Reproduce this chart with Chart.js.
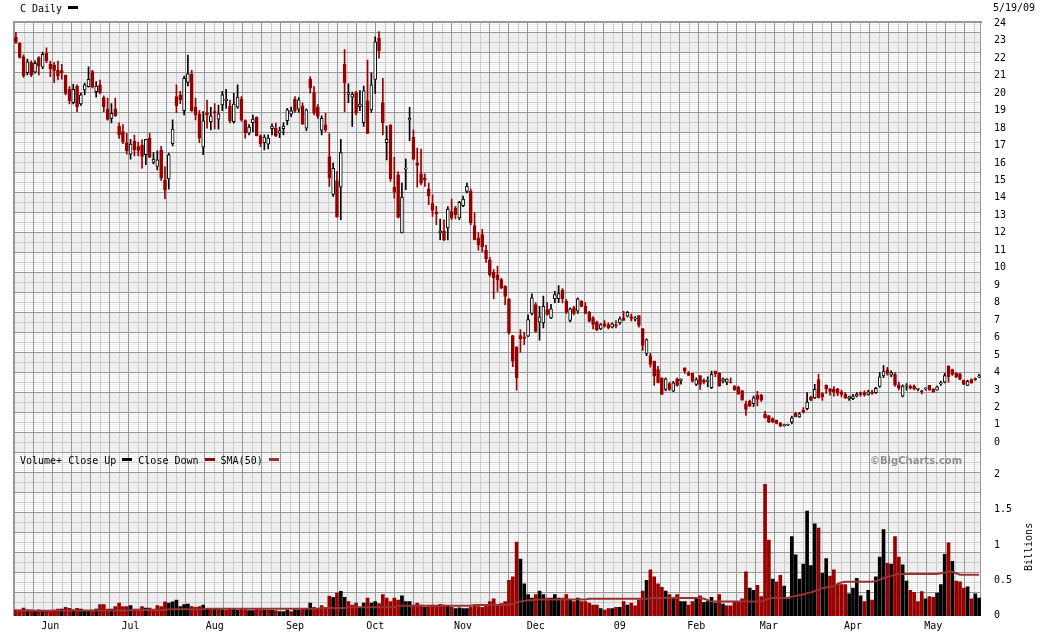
<!DOCTYPE html>
<html>
<head>
<meta charset="utf-8">
<title>C Daily</title>
<script src="https://cdn.jsdelivr.net/npm/chart.js@4.4.0/dist/chart.umd.min.js"></script>
<style>
  body { margin: 0; background: #fff; }
  #wrap { position: relative; width: 1045px; height: 635px; overflow: hidden; }
  #c { position: absolute; left: 0; top: 0; }
  .t { position: absolute; font: 10px "DejaVu Sans Mono", monospace; color: #000; white-space: pre; line-height: 12px; }
  .sw { display: inline-block; width: 10px; height: 3px; vertical-align: 3px; margin: 0 6px; }
</style>
</head>
<body>
<div id="wrap">
  <canvas id="c" width="1045" height="635"></canvas>
  <div class="t" style="left:20px;top:3px">C Daily<span class="sw" style="background:#000"></span></div>
  <div class="t" style="left:993px;top:2px">5/19/09</div>
  <div class="t" style="left:20px;top:455px">Volume+ Close Up<span class="sw" style="background:#000"></span>Close Down<span class="sw" style="background:#990000"></span>SMA(50)<span class="sw" style="background:#993333"></span></div>
  <div class="t" style="left:870px;top:455px;font:bold 10px 'DejaVu Sans';color:#8f8f8f">©BigCharts.com</div>
  <div class="t" style="left:1005px;top:541px;transform:rotate(-90deg);transform-origin:24px 6px">Billions</div>
</div>
<script>
// trading days shown, 5/19/08 .. 5/19/09
const dates = [
  '5/19/08','5/20/08','5/21/08','5/22/08','5/23/08','5/27/08','5/28/08','5/29/08','5/30/08',
  '6/2/08','6/3/08','6/4/08','6/5/08','6/6/08','6/9/08','6/10/08','6/11/08','6/12/08','6/13/08','6/16/08','6/17/08','6/18/08','6/19/08','6/20/08','6/23/08','6/24/08','6/25/08','6/26/08','6/27/08','6/30/08',
  '7/1/08','7/2/08','7/3/08','7/7/08','7/8/08','7/9/08','7/10/08','7/11/08','7/14/08','7/15/08','7/16/08','7/17/08','7/18/08','7/21/08','7/22/08','7/23/08','7/24/08','7/25/08','7/28/08','7/29/08','7/30/08','7/31/08',
  '8/1/08','8/4/08','8/5/08','8/6/08','8/7/08','8/8/08','8/11/08','8/12/08','8/13/08','8/14/08','8/15/08','8/18/08','8/19/08','8/20/08','8/21/08','8/22/08','8/25/08','8/26/08','8/27/08','8/28/08','8/29/08',
  '9/2/08','9/3/08','9/4/08','9/5/08','9/8/08','9/9/08','9/10/08','9/11/08','9/12/08','9/15/08','9/16/08','9/17/08','9/18/08','9/19/08','9/22/08','9/23/08','9/24/08','9/25/08','9/26/08','9/29/08','9/30/08',
  '10/1/08','10/2/08','10/3/08','10/6/08','10/7/08','10/8/08','10/9/08','10/10/08','10/13/08','10/14/08','10/15/08','10/16/08','10/17/08','10/20/08','10/21/08','10/22/08','10/23/08','10/24/08','10/27/08','10/28/08','10/29/08','10/30/08','10/31/08',
  '11/3/08','11/4/08','11/5/08','11/6/08','11/7/08','11/10/08','11/11/08','11/12/08','11/13/08','11/14/08','11/17/08','11/18/08','11/19/08','11/20/08','11/21/08','11/24/08','11/25/08','11/26/08','11/28/08',
  '12/1/08','12/2/08','12/3/08','12/4/08','12/5/08','12/8/08','12/9/08','12/10/08','12/11/08','12/12/08','12/15/08','12/16/08','12/17/08','12/18/08','12/19/08','12/22/08','12/23/08','12/24/08','12/26/08','12/29/08','12/30/08','12/31/08',
  '1/2/09','1/5/09','1/6/09','1/7/09','1/8/09','1/9/09','1/12/09','1/13/09','1/14/09','1/15/09','1/16/09','1/20/09','1/21/09','1/22/09','1/23/09','1/26/09','1/27/09','1/28/09','1/29/09','1/30/09',
  '2/2/09','2/3/09','2/4/09','2/5/09','2/6/09','2/9/09','2/10/09','2/11/09','2/12/09','2/13/09','2/17/09','2/18/09','2/19/09','2/20/09','2/23/09','2/24/09','2/25/09','2/26/09','2/27/09',
  '3/2/09','3/3/09','3/4/09','3/5/09','3/6/09','3/9/09','3/10/09','3/11/09','3/12/09','3/13/09','3/16/09','3/17/09','3/18/09','3/19/09','3/20/09','3/23/09','3/24/09','3/25/09','3/26/09','3/27/09','3/30/09','3/31/09',
  '4/1/09','4/2/09','4/3/09','4/6/09','4/7/09','4/8/09','4/9/09','4/13/09','4/14/09','4/15/09','4/16/09','4/17/09','4/20/09','4/21/09','4/22/09','4/23/09','4/24/09','4/27/09','4/28/09','4/29/09','4/30/09',
  '5/1/09','5/4/09','5/5/09','5/6/09','5/7/09','5/8/09','5/11/09','5/12/09','5/13/09','5/14/09','5/15/09','5/18/09','5/19/09'
];

const opens = [
  23.20,22.85,22.10,21.17,21.75,21.20,22.03,21.48,22.28,21.67, 21.60,21.30,21.29,21.04,20.22,19.46,20.41,19.38,20.18,20.37,
  21.23,20.09,20.47,19.74,19.10,18.55,19.10,18.10,17.80,17.17, 16.51,17.25,16.94,17.02,16.47,17.42,16.03,15.80,16.75,15.00,
  15.08,17.10,19.80,19.90,19.00,20.62,21.10,19.19,18.81,16.91, 18.89,18.37,18.94,18.51,19.33,19.57,19.27,18.37,19.19,19.65,
  18.43,17.71,18.31,18.62,17.55,17.17,17.08,17.97,17.99,17.71, 17.97,18.43,18.79,19.65,19.08,19.27,17.99,20.79,20.03,19.19,
  17.86,18.18,16.37,14.20,14.98,14.62,21.67,19.92,19.77,20.03, 19.23,18.31,19.56,19.04,20.79,23.15,19.46,17.17,18.18,14.60,
  15.32,11.99,15.65,18.47,17.48,15.99,15.38,15.13,14.50,13.67, 13.19,11.99,12.08,12.28,13.22,13.42,12.85,13.55,14.37,14.37,
  12.41,11.70,11.90,11.00,10.46,9.74,9.60,9.32,8.94,8.22, 6.12,5.47,6.12,6.05,6.08,7.38,7.89,6.88,6.84,7.60,
  7.13,8.22,8.23,8.71,8.08,6.99,7.70,7.51,8.08,7.79, 7.45,7.13,6.88,6.50,6.80,6.75,6.59,6.72,6.84,7.13,
  7.22,7.20,7.06,7.26,6.52,5.09,4.97,4.65,4.17,3.70, 3.03,3.36,2.93,3.64,3.55,4.27,3.98,3.95,3.32,3.83,
  3.55,3.49,3.13,4.08,3.98,3.50,3.45,3.42,3.22,3.16, 2.97,2.21,2.36,2.21,2.69,2.69,1.60,1.54,1.36,1.28,
  1.09,0.96,0.98,1.16,1.66,1.45,1.85,1.93,2.59,2.55, 3.60,2.80,3.26,3.03,3.03,3.07,2.90,2.75,2.50,2.50,
  2.65,2.85,2.85,2.75,2.90,2.85,3.20,3.80,4.15,3.85, 3.90,3.30,2.65,3.22,3.22,3.22,3.03,2.92,3.06,3.26,
  3.07,2.99,3.35,3.45,4.36,4.17,3.95,3.89,3.55,3.26, 3.60,3.61,3.75
];
const highs = [
  23.48,22.90,22.20,21.95,21.85,21.85,22.10,22.35,22.60,21.84, 21.75,21.84,21.65,21.04,20.37,20.50,20.47,20.00,20.57,21.50,
  21.30,20.66,20.75,19.85,19.71,19.40,19.71,18.30,18.20,17.70, 17.36,17.60,17.20,17.32,17.36,17.70,16.60,16.70,16.95,15.80,
  16.56,18.47,20.47,20.10,20.98,22.18,21.30,19.71,19.00,18.94, 19.60,19.19,19.40,19.32,20.10,20.22,19.60,19.99,20.47,19.80,
  18.47,18.20,18.75,18.65,17.61,17.61,17.61,18.24,18.28,18.05, 18.30,19.13,19.20,19.80,19.75,19.45,19.10,20.94,20.37,19.35,
  18.70,18.85,17.69,15.99,15.51,17.36,22.50,20.53,20.06,20.10, 20.14,20.41,21.90,21.17,23.23,23.52,20.85,18.12,18.18,16.33,
  15.50,14.85,16.22,19.19,17.90,16.85,16.79,15.38,14.85,14.18, 13.51,12.79,12.75,13.50,13.93,13.51,13.80,14.10,14.85,14.50,
  13.15,12.00,12.20,11.30,10.60,9.89,10.10,9.40,8.98,8.22, 6.12,5.47,6.46,6.30,7.30,8.50,8.00,7.79,8.37,8.00,
  7.90,8.65,8.98,8.80,8.17,7.70,7.80,8.27,8.12,8.00, 7.50,7.20,6.94,6.80,6.98,6.84,6.84,6.98,7.19,7.51,
  7.51,7.35,7.20,7.26,6.52,5.93,5.10,4.65,4.35,3.70, 3.70,3.45,3.50,3.70,3.64,4.27,4.05,3.95,3.70,3.83,
  3.64,3.75,4.08,4.08,3.98,3.70,3.64,3.70,3.25,3.22, 2.97,2.36,2.42,2.65,2.92,2.75,1.78,1.54,1.40,1.28,
  1.14,1.05,1.05,1.50,1.72,1.72,1.99,2.85,2.65,3.32, 3.89,2.85,3.30,3.10,3.20,3.10,3.00,2.85,2.65,2.75,
  2.85,2.90,2.95,3.00,3.00,3.15,4.00,4.40,4.30,4.10, 4.00,3.45,3.30,3.37,3.30,3.30,3.10,3.00,3.12,3.26,
  3.07,3.22,3.50,3.95,4.40,4.20,4.00,3.95,3.57,3.57, 3.64,3.70,3.90
];
const lows = [
  22.85,22.00,20.90,21.05,20.95,21.15,21.04,21.40,21.75,20.94, 20.60,20.75,20.80,19.90,19.38,19.38,18.94,19.30,19.90,20.34,
  20.30,19.77,19.95,18.94,18.45,18.30,18.66,17.40,17.10,16.50, 16.22,16.40,16.40,15.70,15.90,16.30,15.95,15.60,15.00,13.95,
  14.50,16.98,18.89,19.40,18.75,20.41,18.95,18.47,17.17,16.47, 17.99,17.90,17.95,17.94,19.00,19.13,18.30,18.28,19.13,18.40,
  17.42,17.60,17.80,17.55,16.94,16.75,16.80,17.61,17.51,17.45, 17.60,18.18,18.65,18.89,18.89,18.20,17.85,20.00,18.75,18.55,
  17.60,17.80,14.66,14.08,12.90,12.75,18.94,19.46,18.09,18.75, 19.00,18.09,17.69,18.89,19.99,22.00,17.61,16.18,14.95,13.99,
  12.85,11.99,14.47,17.28,16.18,14.62,14.75,14.66,13.61,12.94, 12.46,11.61,11.55,11.60,12.75,12.80,12.75,13.50,14.28,12.45,
  11.60,11.00,10.90,10.30,9.50,8.22,8.65,8.80,7.89,6.20, 4.33,2.99,5.16,5.60,6.05,7.30,6.30,5.85,6.55,7.28,
  7.08,7.99,8.00,7.99,7.37,6.90,7.30,7.38,7.75,7.35, 6.88,6.50,6.40,6.45,6.60,6.50,6.55,6.55,6.75,6.99,
  7.18,6.95,6.95,6.60,5.26,4.97,4.30,3.26,3.41,2.74, 2.95,2.97,2.90,3.22,3.33,3.95,3.83,3.45,3.25,3.03,
  3.35,3.18,3.07,3.75,3.22,3.40,3.30,3.40,2.99,2.74, 2.42,1.54,2.04,2.04,2.08,2.35,1.38,1.12,1.12,1.05,
  0.90,0.93,0.95,1.05,1.45,1.43,1.67,1.85,2.38,2.50, 2.55,2.40,2.80,2.70,2.65,2.68,2.60,2.50,2.40,2.45,
  2.60,2.65,2.65,2.70,2.75,2.80,3.15,3.70,3.85,3.75, 3.20,3.00,2.60,2.99,3.05,3.00,2.95,2.78,2.99,2.99,
  2.88,2.99,3.26,3.40,3.45,3.83,3.70,3.60,3.32,3.26, 3.38,3.55,3.70
];
const closes = [
  22.90,22.05,21.00,21.79,21.04,21.70,21.57,22.22,21.84,21.38, 21.30,20.98,21.17,19.99,19.57,20.22,19.23,19.90,20.47,20.79,
  20.34,20.41,20.03,19.23,18.50,18.85,18.71,17.60,17.20,16.71, 17.08,16.75,16.72,16.37,17.36,16.33,16.22,16.18,15.13,14.47,
  16.47,17.94,19.27,19.61,20.85,21.10,19.00,18.75,17.42,18.41, 18.75,18.70,18.85,18.81,19.90,19.65,18.43,19.38,19.77,18.47,
  17.74,18.05,18.51,17.55,17.10,17.48,17.42,18.12,17.55,17.86, 18.12,19.04,18.98,19.00,19.61,18.24,19.04,20.28,18.85,18.66,
  18.56,17.90,15.15,15.70,12.90,16.60,20.60,20.03,19.95,18.85, 19.38,20.13,17.69,20.47,22.94,22.43,18.31,17.36,15.09,14.33,
  12.88,14.05,15.70,18.56,16.22,15.86,14.85,15.04,14.12,13.28, 13.08,12.12,11.61,13.36,12.85,13.04,13.74,13.93,14.66,12.56,
  11.61,11.30,11.20,10.50,9.61,9.42,9.30,8.85,8.36,6.27, 4.65,3.70,5.93,5.95,7.03,8.27,6.36,7.19,7.79,7.32,
  7.64,8.46,8.52,8.23,7.45,7.64,7.38,8.22,7.79,7.38, 6.94,6.75,6.46,6.75,6.65,6.55,6.79,6.68,7.07,6.99,
  7.45,7.10,7.08,6.69,5.55,5.89,4.46,3.79,3.41,2.74, 3.64,3.03,3.41,3.26,3.57,4.08,3.83,3.50,3.60,3.32,
  3.45,3.51,3.89,3.93,3.22,3.64,3.62,3.40,2.99,2.78, 2.42,1.89,2.08,2.55,2.46,2.42,1.41,1.16,1.18,1.09,
  0.93,0.99,1.00,1.41,1.47,1.64,1.73,2.30,2.42,3.03, 2.55,2.60,3.07,2.92,2.88,2.80,2.75,2.55,2.60,2.65,
  2.75,2.75,2.72,2.90,2.80,3.10,3.75,4.05,3.95,4.00, 3.30,3.10,3.22,3.25,3.10,3.06,3.04,2.90,3.08,2.99,
  2.88,3.18,3.37,3.83,3.76,3.89,3.76,3.60,3.32,3.50, 3.41,3.59,3.77
];
// volume, billions of shares
const volumes = [
  0.085,0.085,0.109,0.085,0.085,0.071,0.085,0.071,0.071,0.071, 0.071,0.095,0.095,0.118,0.104,0.085,0.104,0.095,0.062,0.062,
  0.062,0.095,0.156,0.156,0.095,0.095,0.128,0.179,0.128,0.128, 0.142,0.095,0.095,0.128,0.109,0.109,0.095,0.142,0.128,0.198,
  0.179,0.198,0.222,0.128,0.156,0.165,0.128,0.118,0.128,0.151, 0.095,0.095,0.095,0.095,0.085,0.076,0.104,0.095,0.076,0.095,
  0.085,0.071,0.071,0.095,0.085,0.080,0.080,0.076,0.071,0.057, 0.057,0.080,0.057,0.085,0.080,0.095,0.104,0.179,0.118,0.104,
  0.142,0.118,0.278,0.259,0.320,0.344,0.259,0.20,0.15,0.18, 0.12,0.18,0.25,0.18,0.20,0.17,0.30,0.25,0.20,0.25,
  0.22,0.28,0.20,0.20,0.15,0.18,0.15,0.12,0.13,0.15, 0.14,0.16,0.15,0.14,0.12,0.10,0.11,0.10,0.10,0.12,
  0.14,0.13,0.12,0.14,0.20,0.24,0.15,0.17,0.20,0.50, 0.55,1.04,0.80,0.45,0.30,0.25,0.30,0.35,0.30,0.25,
  0.25,0.30,0.25,0.25,0.30,0.22,0.20,0.25,0.20,0.20, 0.18,0.15,0.15,0.10,0.08,0.10,0.10,0.12,0.12,0.20,
  0.15,0.18,0.14,0.22,0.35,0.50,0.65,0.55,0.45,0.40, 0.35,0.30,0.25,0.30,0.20,0.20,0.15,0.20,0.25,0.28,
  0.19,0.20,0.26,0.18,0.30,0.165,0.14,0.14,0.19,0.20, 0.24,0.62,0.39,0.36,0.43,0.27,1.86,1.07,0.52,0.48,
  0.57,0.42,0.24,1.12,0.86,0.52,0.73,1.48,0.71,1.30, 1.24,0.60,0.81,0.56,0.65,0.44,0.44,0.44,0.31,0.39,
  0.53,0.28,0.20,0.36,0.22,0.55,0.83,1.22,0.74,0.73, 1.12,0.83,0.72,0.49,0.36,0.33,0.20,0.34,0.24,0.27,
  0.26,0.32,0.44,0.87,1.03,0.77,0.49,0.48,0.39,0.41, 0.24,0.31,0.25
];
// 50-day volume average as drawn
const sma50 = [
  0.072,0.072,0.072,0.072,0.072,0.072,0.072,0.072,0.072,0.072, 0.075,0.075,0.075,0.075,0.075,0.075,0.075,0.075,0.075,0.075,
  0.075,0.075,0.075,0.075,0.075,0.075,0.075,0.075,0.075,0.075, 0.080,0.080,0.080,0.080,0.080,0.080,0.080,0.080,0.080,0.080,
  0.090,0.090,0.090,0.090,0.090,0.090,0.090,0.090,0.090,0.090, 0.100,0.100,0.100,0.100,0.100,0.100,0.100,0.100,0.100,0.100,
  0.100,0.100,0.100,0.100,0.100,0.100,0.100,0.100,0.100,0.100, 0.100,0.100,0.100,0.100,0.100,0.100,0.100,0.100,0.100,0.100,
  0.110,0.110,0.110,0.110,0.110,0.110,0.110,0.120,0.120,0.120, 0.120,0.120,0.120,0.120,0.120,0.120,0.120,0.120,0.120,0.120,
  0.140,0.140,0.140,0.140,0.140,0.140,0.140,0.140,0.140,0.140, 0.140,0.140,0.140,0.140,0.140,0.140,0.140,0.140,0.140,0.140,
  0.150,0.150,0.150,0.150,0.150,0.150,0.150,0.150,0.150,0.160, 0.170,0.190,0.200,0.210,0.220,0.220,0.230,0.230,0.230,0.230,
  0.230,0.230,0.230,0.230,0.230,0.230,0.230,0.230,0.230,0.230, 0.240,0.240,0.240,0.240,0.240,0.240,0.240,0.240,0.240,0.240,
  0.240,0.240,0.240,0.240,0.240,0.240,0.250,0.250,0.250,0.250, 0.250,0.250,0.250,0.250,0.250,0.250,0.250,0.250,0.250,0.250,
  0.240,0.220,0.200,0.200,0.200,0.200,0.200,0.200,0.200,0.200, 0.200,0.200,0.200,0.200,0.200,0.200,0.220,0.240,0.250,0.250,
  0.250,0.250,0.250,0.270,0.280,0.290,0.300,0.320,0.330,0.350, 0.370,0.390,0.400,0.410,0.420,0.450,0.470,0.480,0.480,0.480,
  0.480,0.480,0.480,0.480,0.480,0.490,0.510,0.530,0.550,0.560, 0.580,0.590,0.590,0.590,0.590,0.590,0.590,0.590,0.590,0.590,
  0.590,0.590,0.600,0.610,0.630,0.620,0.600,0.580,0.580,0.580, 0.580,0.580,0.580
];
const monthLabels = ['Jun','Jul','Aug','Sep','Oct','Nov','Dec','09','Feb','Mar','Apr','May'];
const priceTicks = [0,1,2,3,4,5,6,7,8,9,10,11,12,13,14,15,16,17,18,19,20,21,22,23,24];
const volTicks = [0, 0.5, 1, 1.5, 2];
const volTickLabels = ['0','0.5','1','1.5','2'];

const RED = '#990000';
const SMA_COLOR = '#993333';

// month label goes on the first trading day of each month
const monthAt = {};
let m = 0;
for (let i = 1; i < dates.length; i++) {
  if (dates[i].split('/')[0] !== dates[i - 1].split('/')[0]) monthAt[i] = monthLabels[m++];
}

const up = closes.map((c, i) => c >= opens[i]);
const bodyFill = up.map(u => u ? '#ffffff' : RED);
const bodyLine = up.map(u => u ? '#000000' : RED);
const volColor = closes.map((c, i) => (i > 0 && c >= closes[i - 1]) ? '#000000' : RED);

// BigCharts style pixel grid behind the plot
const backdrop = {
  id: 'backdrop',
  beforeDatasetsDraw(chart) {
    const ctx = chart.ctx, a = chart.chartArea;
    const L = Math.round(a.left), T = Math.round(a.top), R = Math.round(a.right), B = Math.round(a.bottom);
    ctx.save();
    ctx.fillStyle = '#eeeeee';
    ctx.fillRect(L, T, R - L, B - T);
    ctx.fillStyle = '#ffffff';
    for (let y = T; y < B; y++) {
      const band = Math.floor((y - T - 10) / 20);
      if (((band % 2) + 2) % 2 === 1 && y % 2 === 1) ctx.fillRect(L, y, R - L, 1);
    }
    ctx.fillStyle = '#cccccc';
    for (let y = T + 20; y < B; y += 20) ctx.fillRect(L, y, R - L, 1);
    for (let x = L + 9.5; x < R; x += 19) ctx.fillRect(Math.round(x), T, 1, B - T);
    ctx.fillStyle = '#999999';
    for (let y = T + 10; y < B; y += 20) ctx.fillRect(L, y, R - L, 1);
    for (let x = L; x < R; x += 19) ctx.fillRect(x, T, 1, B - T);
    // frame
    ctx.fillRect(L - 1, T - 1, R - L + 2, 2);
    ctx.fillRect(L - 1, T - 1, 2, B - T + 1);
    ctx.fillRect(R - 1, T - 1, 1, B - T + 1);
    ctx.restore();
  }
};

const tickFont = { family: 'DejaVu Sans Mono', size: 10 };

new Chart(document.getElementById('c'), {
  type: 'bar',
  data: {
    labels: dates,
    datasets: [
      {
        type: 'line', label: 'SMA(50)', data: sma50, yAxisID: 'yV', order: 0,
        borderColor: SMA_COLOR, borderWidth: 2, pointRadius: 0, tension: 0
      },
      {
        label: 'body', data: opens.map((o, i) => [o, closes[i]]), yAxisID: 'yP', order: 1,
        grouped: false, barThickness: 3, minBarLength: 1,
        backgroundColor: bodyFill, borderColor: bodyLine, borderWidth: 1, borderSkipped: false
      },
      {
        label: 'wick', data: lows.map((l, i) => [l, highs[i]]), yAxisID: 'yP', order: 2,
        grouped: false, barThickness: 1, backgroundColor: bodyLine
      },
      {
        label: 'Volume', data: volumes, yAxisID: 'yV', order: 3,
        grouped: false, barThickness: 3, backgroundColor: volColor
      }
    ]
  },
  options: {
    responsive: false,
    devicePixelRatio: 1,
    animation: false,
    layout: { padding: { left: 14, top: 22, right: 0, bottom: 0 } },
    plugins: { legend: { display: false }, tooltip: { enabled: false } },
    scales: {
      x: {
        type: 'category', offset: true,
        grid: { display: false, drawTicks: false }, border: { display: false },
        ticks: {
          autoSkip: false, maxRotation: 0, minRotation: 0, padding: 4, color: '#000', font: tickFont,
          callback: (v, i) => monthAt[i] || ''
        },
        afterFit: s => { s.height = 18; }
      },
      yP: {
        type: 'linear', position: 'right', stack: 'r', stackWeight: 433,
        min: -0.683, max: 24.074,
        grid: { display: false, drawTicks: false }, border: { display: false },
        afterBuildTicks: s => { s.ticks = priceTicks.map(v => ({ value: v })); },
        ticks: { autoSkip: false, padding: 13, color: '#000', font: tickFont, callback: v => String(v) },
        afterFit: s => { s.width = 64; }
      },
      yV: {
        type: 'linear', position: 'right', stack: 'r', stackWeight: 162,
        min: -0.004, max: 2.284,
        grid: { display: false, drawTicks: false }, border: { display: false },
        afterBuildTicks: s => { s.ticks = volTicks.map(v => ({ value: v })); },
        ticks: { autoSkip: false, padding: 13, color: '#000', font: tickFont,
          callback: v => volTickLabels[volTicks.indexOf(v)] },
        afterFit: s => { s.width = 64; }
      }
    }
  },
  plugins: [backdrop]
});
</script>
</body>
</html>
